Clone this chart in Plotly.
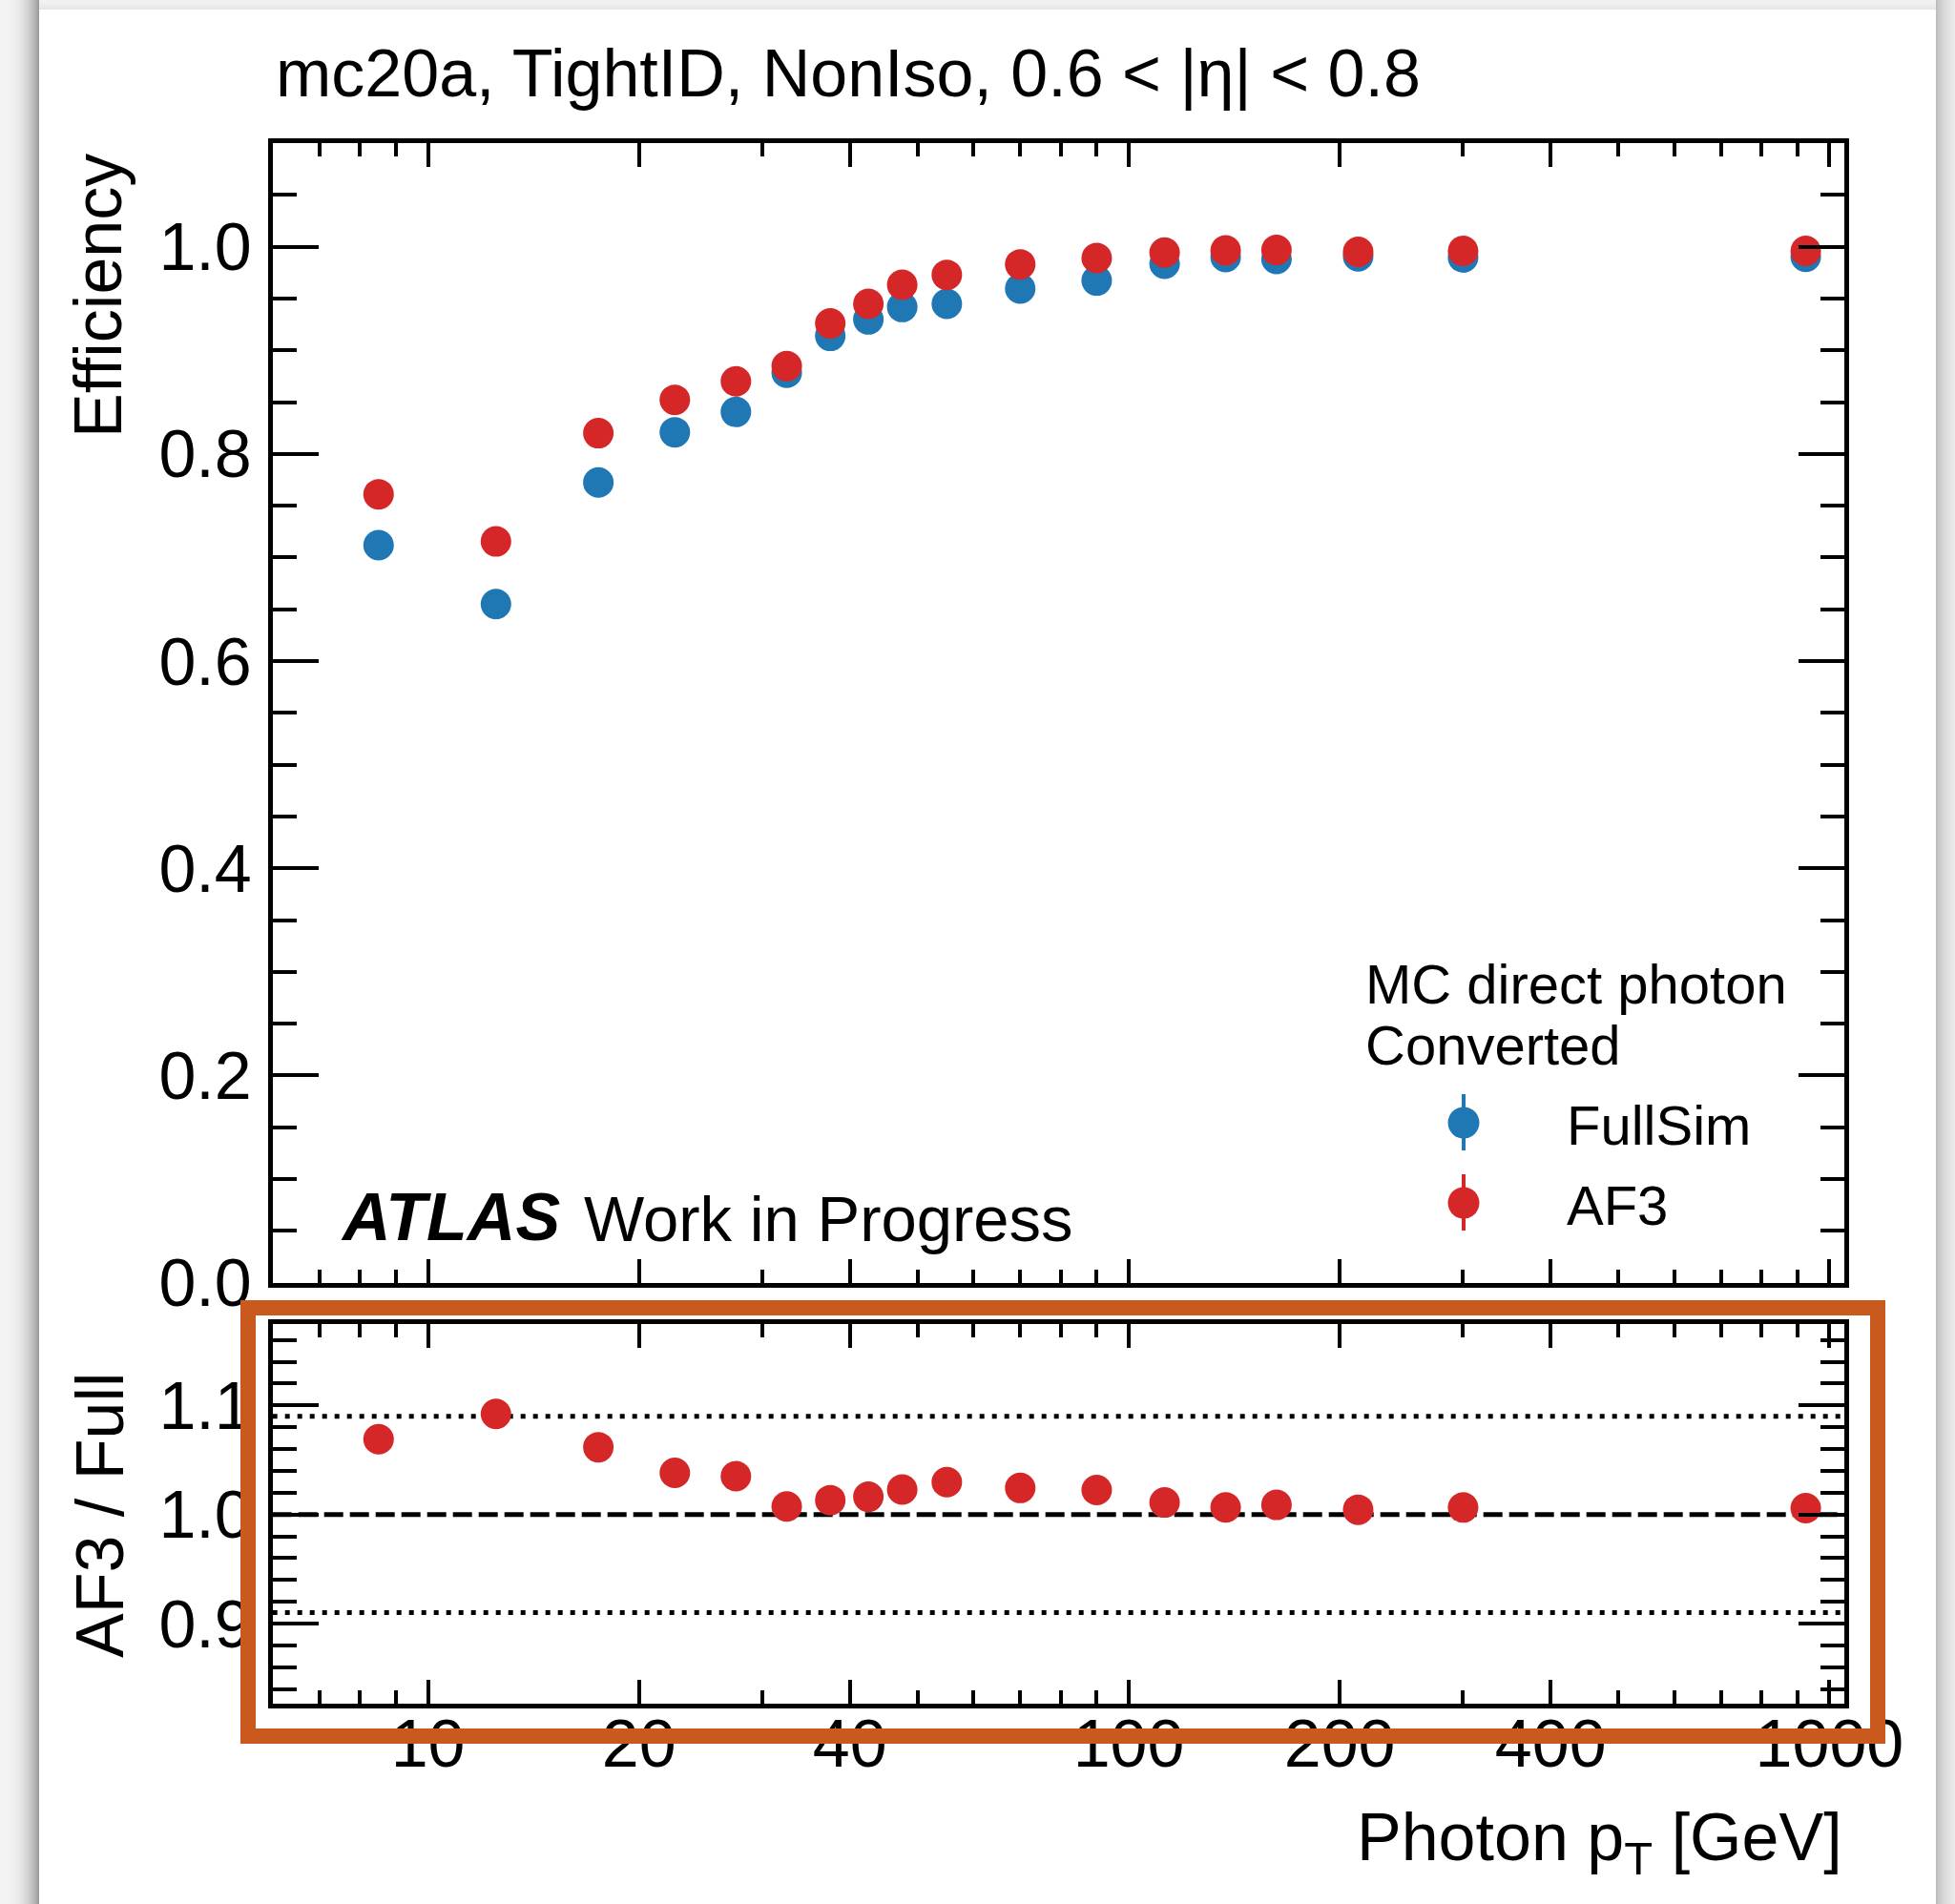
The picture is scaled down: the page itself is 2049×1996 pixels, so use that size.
import numpy as np
import plotly.graph_objects as go

# ---------------------------------------------------------------------------
# Data: photon identification efficiency vs photon pT (converted photons)
# ---------------------------------------------------------------------------
pt_centers = [8.5, 12.5, 17.5, 22.5, 27.5, 32.5, 37.5, 42.5, 47.5, 55,
              70, 90, 112.5, 137.5, 162.5, 212.5, 300, 925]
eff_fullsim = [0.7119, 0.6551, 0.7724, 0.8209, 0.8405, 0.8783, 0.9139, 0.9298,
               0.9418, 0.9448, 0.9596, 0.9673, 0.9835, 0.9900, 0.9881, 0.9907,
               0.9896, 0.9902]
eff_af3 = [0.7610, 0.7155, 0.8200, 0.8522, 0.8700, 0.8847, 0.9259, 0.9449,
           0.9633, 0.9728, 0.9829, 0.9890, 0.9943, 0.9964, 0.9968, 0.9950,
           0.9959, 0.9959]

ratio = np.array(eff_af3) / np.array(eff_fullsim)

x_major = [10, 20, 40, 100, 200, 400, 1000]
x_major_text = ["10", "20", "40", "100", "200", "400", "1000"]
x_minor = [7, 8, 9, 30, 50, 60, 70, 80, 90, 300, 500, 600, 700, 800, 900]
eff_ticks = [0.0, 0.2, 0.4, 0.6, 0.8, 1.0]
ratio_ticks = [0.9, 1.0, 1.1]
ratio_band = [0.91, 1.09]

title_text = "mc20a, TightID, NonIso, 0.6 &lt; |η| &lt; 0.8"

# ---------------------------------------------------------------------------
# Page geometry (pixels)
# ---------------------------------------------------------------------------
W, H = 2049, 1996
BLUE = "#1f77b4"
RED = "#d62728"
ORANGE = "#c9591c"
FONT = "Liberation Sans, Arial, Helvetica, sans-serif"


def px(x):
    return x / W


def py(y):
    return 1 - y / H


frame_l, frame_r = 285.7, 1933.0
main_t, main_b = 150.0, 1344.7
rat_t, rat_b = 1387.5, 1785.5

fig = go.Figure()

fig.add_trace(go.Scatter(
    x=pt_centers, y=eff_fullsim, mode="markers", xaxis="x", yaxis="y",
    marker=dict(color=BLUE, size=32, line=dict(width=0)), showlegend=False,
    name="FullSim"))
fig.add_trace(go.Scatter(
    x=pt_centers, y=eff_af3, mode="markers", xaxis="x", yaxis="y",
    marker=dict(color=RED, size=32, line=dict(width=0)), showlegend=False,
    name="AF3"))
fig.add_trace(go.Scatter(
    x=pt_centers, y=ratio, mode="markers", xaxis="x2", yaxis="y2",
    marker=dict(color=RED, size=32, line=dict(width=0)), showlegend=False,
    name="AF3 / Full"))

xrange_log = [np.log10(6), np.log10(1050)]

common_x = dict(
    type="log", range=xrange_log, domain=[px(frame_l), px(frame_r)],
    showline=True, linewidth=5, linecolor="black", mirror="allticks",
    ticks="inside", ticklen=25, tickwidth=3.5, tickcolor="black",
    tickmode="array", tickvals=x_major, ticktext=x_major_text,
    minor=dict(tickmode="array", tickvals=x_minor, ticks="inside",
               ticklen=14, tickwidth=3.5, tickcolor="black"),
    showgrid=False, zeroline=False, automargin=False,
    tickfont=dict(family=FONT, size=70, color="black"),
)

common_y = dict(
    showline=True, linewidth=5, linecolor="black", mirror="allticks",
    ticks="inside", ticklen=48, tickwidth=3.5, tickcolor="black",
    tickmode="array", showgrid=False, zeroline=False, automargin=False,
    tickfont=dict(family=FONT, size=70, color="black"),
    ticklabelstandoff=3,
)

fig.update_layout(
    width=W, height=H, autosize=False,
    margin=dict(l=0, r=0, t=0, b=0, pad=0, autoexpand=False),
    paper_bgcolor="#efefef",
    plot_bgcolor="rgba(0,0,0,0)",
    font=dict(family=FONT, color="black"),
    showlegend=False,
    xaxis=dict(common_x, anchor="y", showticklabels=False),
    xaxis2=dict(common_x, anchor="y2", showticklabels=True,
                ticklabelstandoff=-23),
    yaxis=dict(
        common_y,
        range=[0, 1.1], domain=[py(main_b), py(main_t)], anchor="x",
        tickvals=eff_ticks, ticktext=[f"{v:.1f}" for v in eff_ticks],
        minor=dict(dtick=0.05, tick0=0, ticks="inside", ticklen=25,
                   tickwidth=3.5, tickcolor="black"),
    ),
    yaxis2=dict(
        common_y,
        range=[0.827, 1.175], domain=[py(rat_b), py(rat_t)], anchor="x2",
        tickvals=ratio_ticks, ticktext=[f"{v:.1f}" for v in ratio_ticks],
        minor=dict(dtick=0.02, tick0=0, ticks="inside", ticklen=25,
                   tickwidth=3.5, tickcolor="black"),
    ),
)

shapes = []

# Page background: white card with soft drop shadow
for i in range(41):
    t = (i + 0.5) / 41
    g = int(round(243 - 92 * t ** 3))
    shapes.append(dict(type="rect", xref="paper", yref="paper", layer="below",
                       x0=px(i), x1=px(i + 1), y0=0, y1=1,
                       line=dict(width=0), fillcolor=f"rgb({g},{g},{g})"))
for i in range(20):
    t = (i + 0.5) / 20
    g = int(round(178 + 58 * t ** 0.5))
    shapes.append(dict(type="rect", xref="paper", yref="paper", layer="below",
                       x0=px(2029 + i), x1=px(2030 + i), y0=0, y1=1,
                       line=dict(width=0), fillcolor=f"rgb({g},{g},{g})"))
for i in range(10):
    t = (i + 0.5) / 10
    g = int(round(241 - 14 * t ** 2))
    shapes.append(dict(type="rect", xref="paper", yref="paper", layer="below",
                       x0=px(41), x1=px(2029), y0=py(i + 1), y1=py(i),
                       line=dict(width=0), fillcolor=f"rgb({g},{g},{g})"))
shapes.append(dict(type="rect", xref="paper", yref="paper", layer="below",
                   x0=px(41), x1=px(2029), y0=0, y1=py(10),
                   line=dict(width=0), fillcolor="white"))

# Reference lines in the ratio panel
shapes.append(dict(type="line", xref="x2 domain", yref="y2", layer="below",
                   x0=0, x1=1, y0=1.0, y1=1.0,
                   line=dict(color="black", width=5, dash="20px,7px")))
for v in ratio_band:
    shapes.append(dict(type="line", xref="x2 domain", yref="y2",
                       layer="below", x0=0, x1=1, y0=v, y1=v,
                       line=dict(color="black", width=5, dash="5px,8px")))

# Legend glyphs (marker with vertical error bar)
for cy, col in [(1177, BLUE), (1261, RED)]:
    shapes.append(dict(type="line", xref="paper", yref="paper", layer="above",
                       x0=px(1534), x1=px(1534), y0=py(cy - 30), y1=py(cy + 29),
                       line=dict(color=col, width=4)))
    shapes.append(dict(type="circle", xref="paper", yref="paper",
                       layer="above", x0=px(1534 - 16.5), x1=px(1534 + 16.5),
                       y0=py(cy + 16.5), y1=py(cy - 16.5),
                       line=dict(width=0), fillcolor=col))

# Highlight frame around the ratio panel
shapes.append(dict(type="rect", xref="paper", yref="paper", layer="above",
                   x0=px(260), x1=px(1968), y0=py(1820), y1=py(1371),
                   line=dict(color=ORANGE, width=16),
                   fillcolor="rgba(0,0,0,0)"))

fig.update_layout(shapes=shapes)


def label(text, x, y, size=70, xanchor="left", yanchor="middle", angle=0):
    fig.add_annotation(text=text, xref="paper", yref="paper", x=px(x),
                       y=py(y), xanchor=xanchor, yanchor=yanchor,
                       showarrow=False, textangle=angle,
                       font=dict(family=FONT, size=size, color="black"),
                       borderpad=0, borderwidth=0)


label(title_text, 289, 77)
label("<b><i>ATLAS</i></b>", 357, 1276)
label("Work in Progress", 612, 1277, size=67)
label("MC direct photon", 1431, 1031, size=58)
label("Converted", 1431, 1095, size=58)
label("FullSim", 1642, 1179, size=58)
label("AF3", 1642, 1263, size=58)
label("Efficiency", 103, 310, xanchor="center", angle=-90)
label("AF3 / Full", 105, 1588, xanchor="center", angle=-90)
label("Photon p<sub>T</sub> [GeV]", 1931, 1887, xanchor="right",
      yanchor="top")

fig.write_html("out.html", config={"displayModeBar": False})
